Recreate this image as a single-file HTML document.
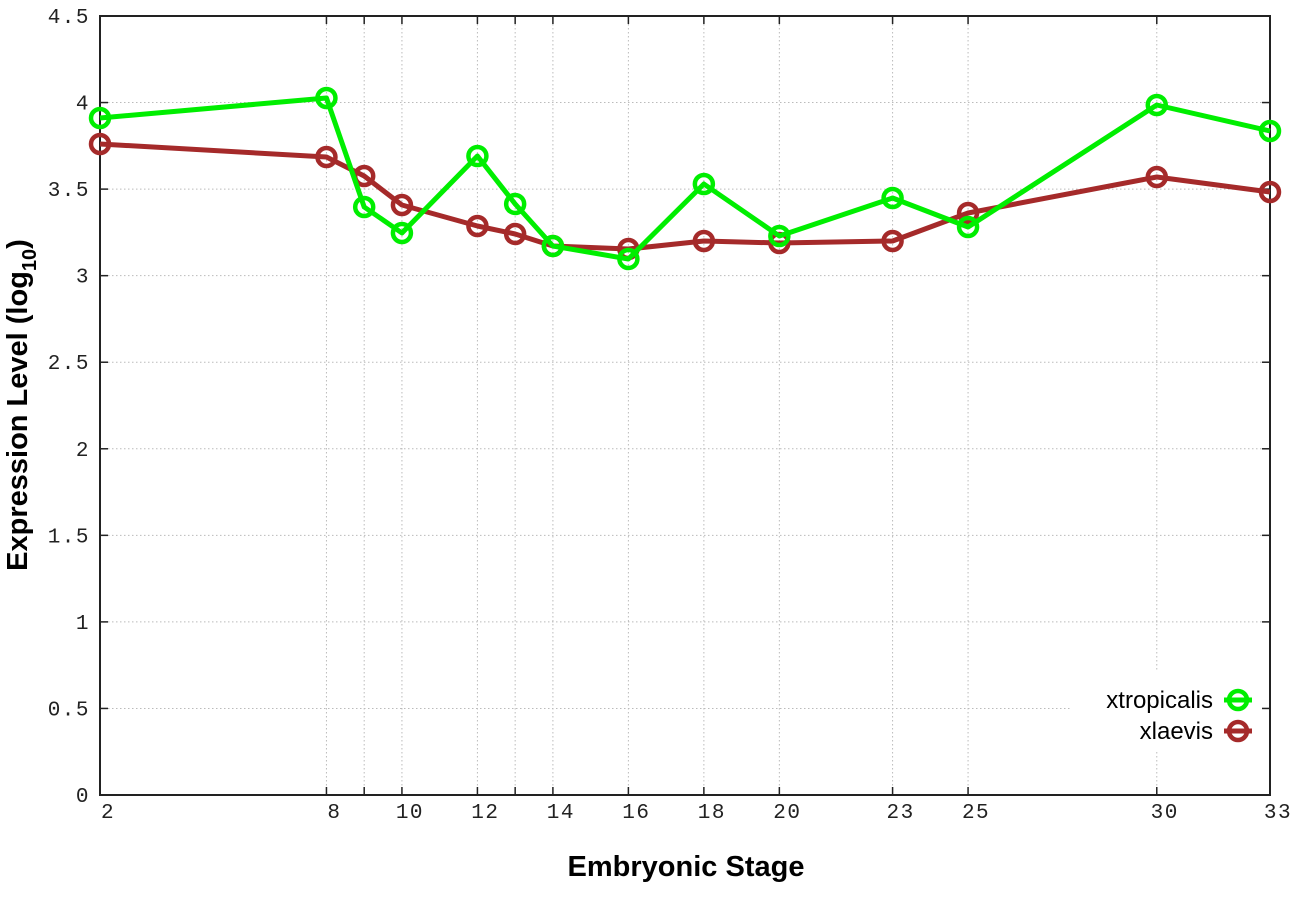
<!DOCTYPE html>
<html><head><meta charset="utf-8"><style>
html,body{margin:0;padding:0;background:#fff;}
svg text{font-family:"Liberation Mono",monospace;}
</style></head><body>
<svg id="c" width="1296" height="907" xmlns="http://www.w3.org/2000/svg"></svg>
<script>
const L=100,R=1270,T=16,B=795;
const xs=s=>L+(s-2)*(R-L)/31, ys=v=>B-v*(B-T)/4.5;
let h='';
const gridStages=[8,9,10,12,13,14,16,18,20,23,25,30];
for(const s of gridStages){const x=xs(s);h+=`<line x1="${x}" y1="${T}" x2="${x}" y2="${B}" stroke="#bbb" stroke-width="1" stroke-dasharray="1.5,2.5"/>`;}
for(let v=0.5;v<4.5;v+=0.5){const y=ys(v);h+=`<line x1="${L}" y1="${y}" x2="${R}" y2="${y}" stroke="#bbb" stroke-width="1" stroke-dasharray="1.5,2.5"/>`;}
h+=`<rect x="1070" y="672" width="199" height="80" fill="#fff"/>`;
h+=`<rect x="${L}" y="${T}" width="${R-L}" height="${B-T}" fill="none" stroke="#222" stroke-width="2"/>`;
for(const s of gridStages.concat([2,33])){const x=xs(s);h+=`<line x1="${x}" y1="${B}" x2="${x}" y2="${B-8}" stroke="#222" stroke-width="1.5"/><line x1="${x}" y1="${T}" x2="${x}" y2="${T+8}" stroke="#222" stroke-width="1.5"/>`;}
for(let v=0;v<=4.5;v+=0.5){const y=ys(v);h+=`<line x1="${L}" y1="${y}" x2="${L+8}" y2="${y}" stroke="#222" stroke-width="1.5"/><line x1="${R}" y1="${y}" x2="${R-8}" y2="${y}" stroke="#222" stroke-width="1.5"/>`;
 const lab=(v===0?'0':(v%1===0?String(v):v.toFixed(1)));
 h+=`<text x="90" y="${y+7}" text-anchor="end" font-size="21" letter-spacing="1.5" fill="#222">${lab}</text>`;}
const xl=[2,8,10,12,14,16,18,20,23,25,30,33];
for(const s of xl){h+=`<text x="${xs(s)+8}" y="818" text-anchor="middle" font-size="21" letter-spacing="1.5" fill="#222">${s}</text>`;}
const S=[2,8,9,10,12,13,14,16,18,20,23,25,30,33];
const g=[118,98,207,233,156,204,246,259,184,236,198,227,105,131];
const r=[144,157,176,205,226,234,246,249,241,243,241,213,177,192];
function series(ys_,col){let p=S.map((s,i)=>`${xs(s)},${ys_[i]}`).join(' ');
 let o=`<polyline points="${p}" fill="none" stroke="${col}" stroke-width="5" stroke-linejoin="round"/>`;
 S.forEach((s,i)=>{o+=`<circle cx="${xs(s)}" cy="${ys_[i]}" r="9" fill="none" stroke="${col}" stroke-width="4.5"/>`;});return o;}
h+=series(r,'#a52a2a');
h+=series(g,'#00ee00');
h+=`<text x="1213" y="708" text-anchor="end" font-size="24" style="font-family:'Liberation Sans',sans-serif" fill="#000">xtropicalis</text>`;
h+=`<line x1="1224" y1="700" x2="1252" y2="700" stroke="#00ee00" stroke-width="5"/><circle cx="1238" cy="700" r="9" fill="none" stroke="#00ee00" stroke-width="4.5"/>`;
h+=`<text x="1213" y="739" text-anchor="end" font-size="24" style="font-family:'Liberation Sans',sans-serif" fill="#000">xlaevis</text>`;
h+=`<line x1="1224" y1="731" x2="1252" y2="731" stroke="#a52a2a" stroke-width="5"/><circle cx="1238" cy="731" r="9" fill="none" stroke="#a52a2a" stroke-width="4.5"/>`;
h+=`<text x="686" y="876" text-anchor="middle" font-size="29" font-weight="bold" style="font-family:'Liberation Sans',sans-serif" fill="#000">Embryonic Stage</text>`;
h+=`<text transform="translate(27,405) rotate(-90)" text-anchor="middle" font-size="29" font-weight="bold" style="font-family:'Liberation Sans',sans-serif" fill="#000">Expression Level (log<tspan font-size="20" dy="9">10</tspan><tspan dy="-9">)</tspan></text>`;
document.getElementById('c').innerHTML=h;
</script>
</body></html>
